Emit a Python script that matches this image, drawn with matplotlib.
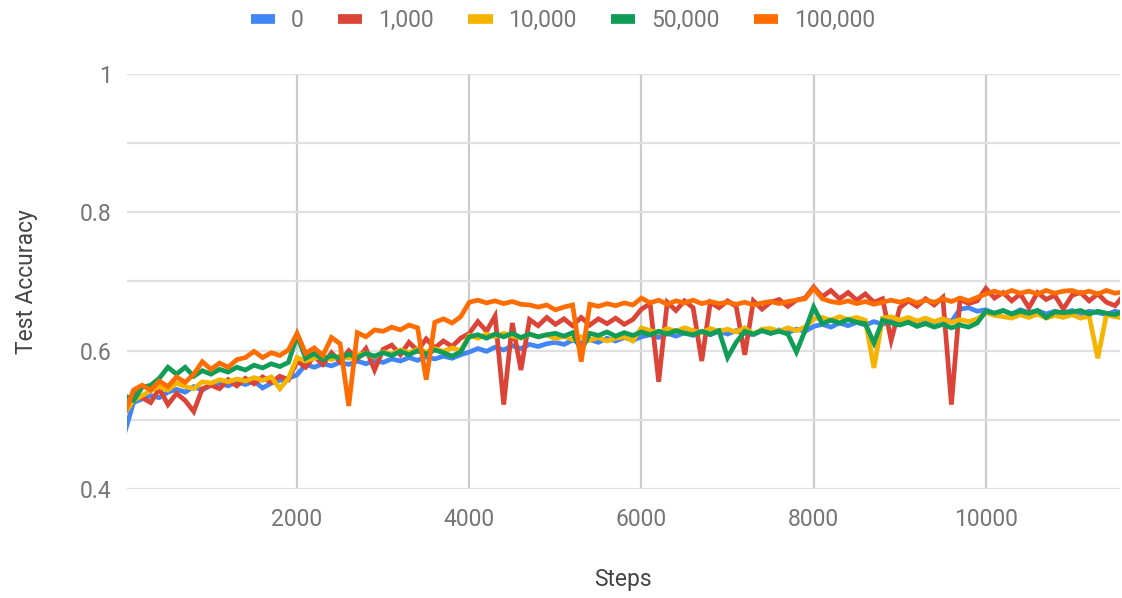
import numpy as np
import matplotlib
matplotlib.use("Agg")
import matplotlib.pyplot as plt
from matplotlib.lines import Line2D

plt.rcParams['font.family'] = ['Roboto', 'DejaVu Sans']

# test accuracy logged every 100 steps for each setting
steps = np.arange(0, 11700, 100)

acc_0 = [
    0.482, 0.525, 0.530, 0.535, 0.532, 0.540, 0.544, 0.540, 0.548, 0.543,
    0.550, 0.553, 0.549, 0.555, 0.551, 0.556, 0.546, 0.553, 0.557, 0.560,
    0.565, 0.580, 0.576, 0.581, 0.578, 0.583, 0.580, 0.585, 0.581, 0.586,
    0.583, 0.588, 0.585, 0.590, 0.586, 0.591, 0.588, 0.592, 0.589, 0.594,
    0.598, 0.603, 0.599, 0.605, 0.601, 0.607, 0.603, 0.609, 0.606, 0.610,
    0.612, 0.609, 0.615, 0.611, 0.616, 0.612, 0.618, 0.614, 0.619, 0.615,
    0.620, 0.623, 0.619, 0.625, 0.621, 0.626, 0.622, 0.627, 0.623, 0.628,
    0.624, 0.629, 0.625, 0.623, 0.629, 0.625, 0.630, 0.626, 0.631, 0.628,
    0.635, 0.638, 0.634, 0.640, 0.636, 0.641, 0.637, 0.642, 0.638, 0.643,
    0.639, 0.644, 0.640, 0.645, 0.641, 0.646, 0.642, 0.660, 0.662, 0.657,
    0.659, 0.654, 0.658, 0.653, 0.659, 0.655, 0.658, 0.653, 0.657, 0.654,
    0.658, 0.653, 0.657, 0.655, 0.652, 0.657, 0.654,
]

acc_1000 = [
    0.515, 0.540, 0.532, 0.525, 0.545, 0.522, 0.538, 0.528, 0.512, 0.545,
    0.550, 0.545, 0.558, 0.549, 0.560, 0.552, 0.562, 0.554, 0.563, 0.558,
    0.585, 0.576, 0.592, 0.580, 0.597, 0.584, 0.600, 0.588, 0.603, 0.572,
    0.602, 0.608, 0.594, 0.612, 0.600, 0.617, 0.604, 0.614, 0.606, 0.618,
    0.625, 0.642, 0.628, 0.650, 0.522, 0.640, 0.572, 0.645, 0.636, 0.648,
    0.638, 0.646, 0.636, 0.648, 0.637, 0.646, 0.639, 0.647, 0.638, 0.645,
    0.660, 0.668, 0.555, 0.670, 0.658, 0.672, 0.662, 0.585, 0.670, 0.662,
    0.672, 0.664, 0.594, 0.672, 0.660, 0.670, 0.674, 0.664, 0.673, 0.676,
    0.692, 0.678, 0.687, 0.675, 0.684, 0.673, 0.682, 0.670, 0.675, 0.615,
    0.662, 0.672, 0.664, 0.675, 0.666, 0.677, 0.522, 0.674, 0.668, 0.672,
    0.690, 0.676, 0.684, 0.672, 0.682, 0.662, 0.684, 0.674, 0.680, 0.660,
    0.680, 0.684, 0.672, 0.682, 0.670, 0.665, 0.680,
]

acc_10000 = [
    0.510, 0.528, 0.535, 0.542, 0.548, 0.543, 0.553, 0.548, 0.545, 0.555,
    0.553, 0.558, 0.555, 0.559, 0.556, 0.561, 0.557, 0.562, 0.545, 0.560,
    0.590, 0.585, 0.589, 0.592, 0.587, 0.593, 0.589, 0.594, 0.596, 0.591,
    0.598, 0.595, 0.601, 0.597, 0.602, 0.598, 0.603, 0.599, 0.604, 0.600,
    0.622, 0.618, 0.624, 0.620, 0.625, 0.621, 0.618, 0.624, 0.620, 0.623,
    0.617, 0.621, 0.616, 0.620, 0.615, 0.619, 0.614, 0.618, 0.620, 0.614,
    0.633, 0.629, 0.626, 0.632, 0.628, 0.633, 0.629, 0.626, 0.632, 0.628,
    0.631, 0.627, 0.633, 0.624, 0.631, 0.632, 0.628, 0.633, 0.629, 0.634,
    0.646, 0.648, 0.644, 0.649, 0.645, 0.648, 0.644, 0.575, 0.647, 0.649,
    0.644, 0.648, 0.643, 0.647, 0.642, 0.646, 0.641, 0.645, 0.642, 0.646,
    0.655, 0.651, 0.649, 0.647, 0.652, 0.648, 0.653, 0.647, 0.651, 0.648,
    0.652, 0.647, 0.650, 0.589, 0.652, 0.649, 0.647,
]

acc_50000 = [
    0.535, 0.528, 0.547, 0.550, 0.560, 0.576, 0.566, 0.576, 0.563, 0.571,
    0.566, 0.573, 0.569, 0.576, 0.572, 0.579, 0.575, 0.581, 0.577, 0.583,
    0.622, 0.589, 0.596, 0.587, 0.593, 0.589, 0.595, 0.590, 0.596, 0.592,
    0.597, 0.593, 0.599, 0.594, 0.600, 0.595, 0.601, 0.597, 0.592, 0.598,
    0.620, 0.623, 0.618, 0.624, 0.620, 0.625, 0.619, 0.624, 0.620, 0.623,
    0.625, 0.621, 0.626, 0.600, 0.625, 0.622, 0.627, 0.621, 0.626, 0.622,
    0.627, 0.623, 0.628, 0.624, 0.629, 0.625, 0.623, 0.628, 0.624, 0.629,
    0.590, 0.612, 0.628, 0.624, 0.629, 0.625, 0.628, 0.624, 0.598, 0.629,
    0.663, 0.639, 0.644, 0.640, 0.645, 0.641, 0.639, 0.611, 0.644, 0.640,
    0.637, 0.641, 0.635, 0.639, 0.634, 0.638, 0.633, 0.637, 0.634, 0.640,
    0.657, 0.654, 0.658, 0.653, 0.657, 0.654, 0.658, 0.648, 0.656, 0.655,
    0.656, 0.658, 0.653, 0.657, 0.654, 0.652, 0.657,
]

acc_100000 = [
    0.510, 0.543, 0.550, 0.543, 0.556, 0.548, 0.562, 0.554, 0.566, 0.584,
    0.573, 0.582, 0.576, 0.587, 0.590, 0.599, 0.590, 0.597, 0.593, 0.601,
    0.625, 0.596, 0.604, 0.593, 0.619, 0.610, 0.520, 0.626, 0.620, 0.630,
    0.628, 0.634, 0.630, 0.637, 0.633, 0.558, 0.641, 0.646, 0.640, 0.649,
    0.670, 0.673, 0.669, 0.672, 0.668, 0.671, 0.667, 0.666, 0.663, 0.666,
    0.659, 0.663, 0.666, 0.584, 0.667, 0.664, 0.668, 0.665, 0.669, 0.666,
    0.676, 0.669, 0.673, 0.667, 0.672, 0.669, 0.673, 0.668, 0.671, 0.668,
    0.670, 0.667, 0.670, 0.666, 0.669, 0.671, 0.668, 0.671, 0.673, 0.675,
    0.690, 0.675, 0.671, 0.669, 0.672, 0.668, 0.671, 0.667, 0.670, 0.673,
    0.670, 0.674, 0.669, 0.673, 0.670, 0.675, 0.671, 0.676, 0.672, 0.677,
    0.682, 0.686, 0.682, 0.687, 0.683, 0.686, 0.682, 0.687, 0.683, 0.686,
    0.687, 0.683, 0.686, 0.682, 0.687, 0.683, 0.685,
]

labels = ['0', '1,000', '10,000', '50,000', '100,000']
colors = ['#4285F4', '#DB4437', '#F4B400', '#0F9D58', '#FF6D01']
series = [acc_0, acc_1000, acc_10000, acc_50000, acc_100000]

fig = plt.figure(figsize=(11.22, 5.98), dpi=100)
ax = fig.add_axes([0.1132, 0.1823, 0.8848, 0.694])

for vals, col in zip(series, colors):
    ax.plot(steps, vals, color=col, linewidth=3.4, solid_joinstyle='miter', zorder=3)

ax.set_xlim(25, 11555)
ax.set_ylim(0.4, 1.0)

ax.set_xticks([2000, 4000, 6000, 8000, 10000])
ax.set_yticks([0.4, 0.6, 0.8, 1.0])
ax.set_yticklabels(['0.4', '0.6', '0.8', '1'])
ax.set_yticks([0.5, 0.7, 0.9], minor=True)

ax.grid(axis='y', which='both', color='#e0e0e0', linewidth=1.6, zorder=0)
ax.grid(axis='x', which='major', color='#cccccc', linewidth=1.6, zorder=0)
ax.set_axisbelow(True)

for s in ax.spines.values():
    s.set_visible(False)

ax.tick_params(axis='both', which='both', length=0, labelsize=16.5, labelcolor='#757575')
ax.tick_params(axis='y', pad=11)
ax.tick_params(axis='x', pad=14)

ax.set_xlabel('Steps', fontsize=16.5, color='#444444', labelpad=26)
ax.set_ylabel('Test Accuracy', fontsize=16.5, color='#444444', labelpad=30)

handles = [Line2D([0], [0], color=c, linewidth=7, solid_capstyle='butt') for c in colors]
fig.legend(handles, labels, loc='center', bbox_to_anchor=(0.502, 0.966), ncol=5,
           frameon=False, fontsize=16.5, labelcolor='#757575',
           handlelength=1.05, handletextpad=0.7, columnspacing=1.5)

fig.savefig('out.png', dpi=100)
